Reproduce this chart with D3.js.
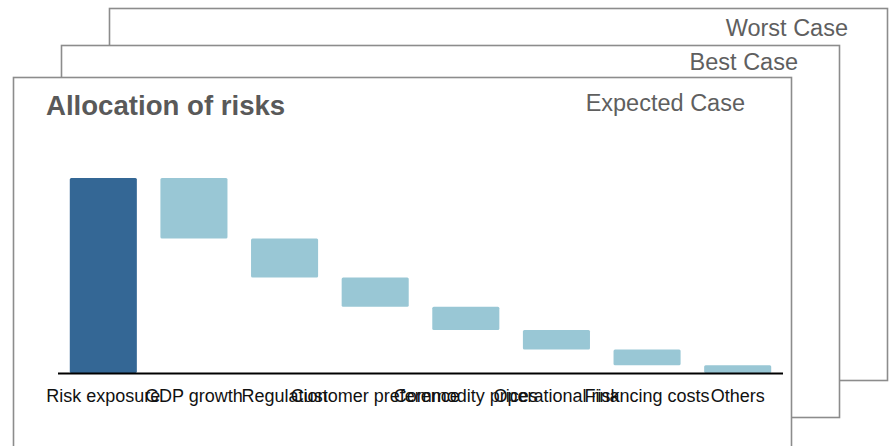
<!DOCTYPE html>
<html>
<head>
<meta charset="utf-8">
<script src="https://cdn.jsdelivr.net/npm/d3@7"></script>
<style>
  html, body { margin: 0; padding: 0; background: #fff; }
  svg { display: block; font-family: "Liberation Sans", Arial, Helvetica, sans-serif; }
</style>
</head>
<body>
<svg id="chart" width="889" height="446"></svg>
<script>
// Scenario sheets, back to front
const scenarios = ["Worst Case", "Best Case", "Expected Case"];

// Waterfall data for the front sheet
const categories = [
  "Risk exposure", "GDP growth", "Regulation", "Customer preference",
  "Commodity prices", "Operational risk", "Financing costs", "Others"
];
const totalExposure = 100;
const riskShares = [31, 20, 15, 12, 10, 8, 4];

const svg = d3.select("#chart");

// Sheet geometry (back to front)
const sheets = [
  { x: 109.5, y: 8.5,  w: 778, h: 372, labelX: 848, labelY: 36 },
  { x: 61.5,  y: 45.5, w: 778, h: 372, labelX: 798, labelY: 70 },
  { x: 13.5,  y: 77.5, w: 778, h: 400, labelX: 745, labelY: 111 }
];

scenarios.forEach((name, i) => {
  const s = sheets[i];
  const g = svg.append("g");
  g.append("rect")
    .attr("x", s.x).attr("y", s.y)
    .attr("width", s.w).attr("height", s.h)
    .attr("fill", "#ffffff")
    .attr("stroke", "#8c8c8c")
    .attr("stroke-width", 1.6);
  g.append("text")
    .attr("x", s.labelX).attr("y", s.labelY)
    .attr("text-anchor", "end")
    .attr("font-size", 23.5)
    .attr("fill", "#5f5f5f")
    .text(name);
});

// Title on the front sheet
svg.append("text")
  .attr("x", 46).attr("y", 115)
  .attr("font-size", 27.6)
  .attr("font-weight", "bold")
  .attr("fill", "#595959")
  .text("Allocation of risks");

// Build waterfall segments
const segments = [];
segments.push({ name: categories[0], y0: 0, y1: totalExposure, total: true });
let level = totalExposure;
riskShares.forEach((v, i) => {
  segments.push({ name: categories[i + 1], y0: level - v, y1: level, total: false });
  level -= v;
});

const x = d3.scaleBand()
  .domain(categories)
  .range([58, 783])
  .paddingInner(0.26)
  .paddingOuter(0.13);

const y = d3.scaleLinear()
  .domain([0, totalExposure])
  .range([373, 178]);

svg.append("g")
  .selectAll("rect")
  .data(segments)
  .join("rect")
  .attr("x", d => x(d.name))
  .attr("y", d => y(d.y1))
  .attr("width", x.bandwidth())
  .attr("height", d => y(d.y0) - y(d.y1))
  .attr("rx", 1.5)
  .attr("fill", d => d.total ? "#346795" : "#99c7d5");

// Category axis
const axis = svg.append("g")
  .attr("transform", "translate(0,373.5)")
  .call(d3.axisBottom(x).tickSize(0).tickPadding(16));
axis.select(".domain")
  .attr("d", "M58,0H783")
  .attr("stroke", "#000")
  .attr("stroke-width", 2.2);
axis.selectAll("text")
  .attr("font-size", 18)
  .attr("font-family", "\"Liberation Sans\", Arial, sans-serif")
  .attr("fill", "#111");
</script>
</body>
</html>
